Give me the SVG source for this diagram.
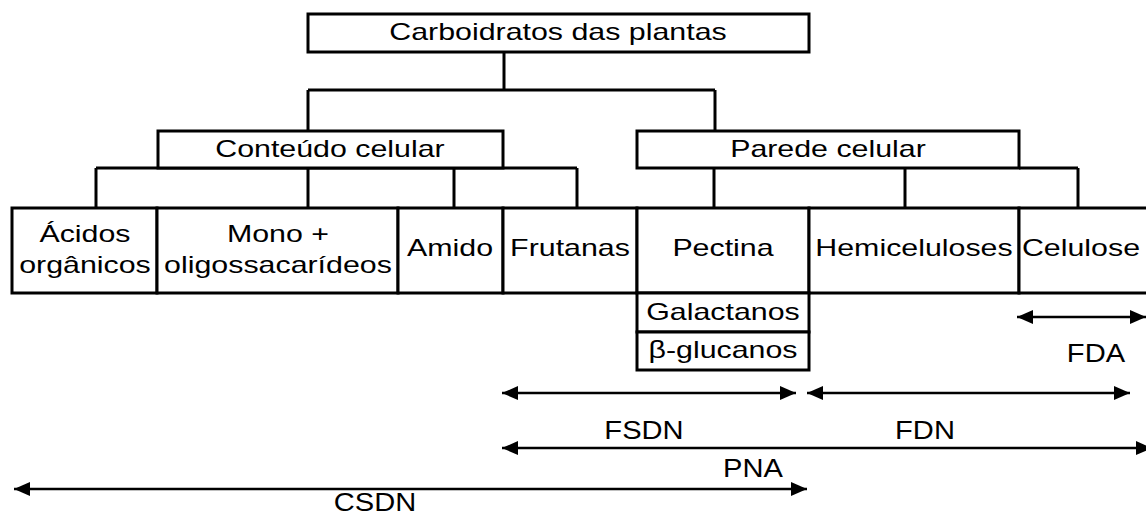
<svg xmlns="http://www.w3.org/2000/svg" width="1146" height="517" viewBox="0 0 1146 517">
<style>
.b { fill: #fff; stroke: #000; stroke-width: 3; }
.c line { stroke: #000; stroke-width: 3; }
.a line { stroke: #000; stroke-width: 2.5; }
.t { font-family: "Liberation Sans", Arial, sans-serif; font-size: 23px; fill: #000; text-anchor: middle; transform-box: fill-box; transform-origin: center; transform: scaleX(1.32); }
.L { font-family: "Liberation Sans", Arial, sans-serif; font-size: 26px; fill: #000; text-anchor: middle; transform-box: fill-box; transform-origin: center; transform: scaleX(1.12); }
</style>
<defs>
<marker id="ah" markerUnits="userSpaceOnUse" markerWidth="16" markerHeight="14" refX="16" refY="7" orient="auto-start-reverse" viewBox="0 0 16 14">
<path d="M0,0 L16,7 L0,14 z" fill="#000"/>
</marker>
</defs>
<rect width="1146" height="517" fill="#fff"/>
<g id="connectors" class="c">
<line x1="504" y1="52" x2="504" y2="90"/>
<line x1="308" y1="90" x2="715" y2="90"/>
<line x1="308" y1="90" x2="308" y2="131"/>
<line x1="715" y1="90" x2="715" y2="131"/>
<line x1="96" y1="168" x2="577" y2="168"/>
<line x1="96" y1="168" x2="96" y2="208"/>
<line x1="308" y1="168" x2="308" y2="208"/>
<line x1="454" y1="168" x2="454" y2="208"/>
<line x1="577" y1="168" x2="577" y2="208"/>
<line x1="1019" y1="168" x2="1078" y2="168"/>
<line x1="714" y1="168" x2="714" y2="208"/>
<line x1="905" y1="168" x2="905" y2="208"/>
<line x1="1078" y1="168" x2="1078" y2="208"/>
</g>
<g id="root"><rect class="b" x="308" y="14" width="501" height="38"/><text class="t" x="558" y="40">Carboidratos das plantas</text></g>
<g id="conteudo"><rect class="b" x="158" y="131" width="345" height="37"/><text class="t" x="330" y="157">Conteúdo celular</text></g>
<g id="parede"><rect class="b" x="637" y="131" width="382" height="37"/><text class="t" x="828" y="157">Parede celular</text></g>
<g id="acidos"><rect class="b" x="12" y="208" width="145" height="85"/><text class="t" x="85" y="242">Ácidos</text><text class="t" x="85" y="273">orgânicos</text></g>
<g id="mono"><rect class="b" x="157" y="208" width="241" height="85"/><text class="t" x="278" y="242">Mono +</text><text class="t" x="278" y="273">oligossacarídeos</text></g>
<g id="amido"><rect class="b" x="398" y="208" width="105" height="85"/><text class="t" x="450" y="256">Amido</text></g>
<g id="frutanas"><rect class="b" x="503" y="208" width="134" height="85"/><text class="t" x="570" y="256">Frutanas</text></g>
<g id="pectina"><rect class="b" x="637" y="208" width="172" height="85"/><text class="t" x="723" y="256">Pectina</text></g>
<g id="hemi"><rect class="b" x="809" y="208" width="210" height="85"/><text class="t" x="914" y="256">Hemiceluloses</text></g>
<g id="celulose"><rect class="b" x="1019" y="208" width="130" height="85"/><text class="t" x="1081" y="256">Celulose</text></g>
<g id="galactanos"><rect class="b" x="637" y="293" width="172" height="39"/><text class="t" x="723" y="320">Galactanos</text></g>
<g id="bglucanos"><rect class="b" x="637" y="332" width="172" height="38"/><text class="t" x="723" y="358">β-glucanos</text></g>
<g id="arrows" class="a">
<line x1="1017" y1="317" x2="1146" y2="317" marker-start="url(#ah)" marker-end="url(#ah)"/>
<line x1="502" y1="393" x2="796" y2="393" marker-start="url(#ah)" marker-end="url(#ah)"/>
<line x1="807" y1="393" x2="1130" y2="393" marker-start="url(#ah)" marker-end="url(#ah)"/>
<line x1="502" y1="448" x2="1152" y2="448" marker-start="url(#ah)" marker-end="url(#ah)"/>
<line x1="14" y1="489" x2="807" y2="489" marker-start="url(#ah)" marker-end="url(#ah)"/>
</g>
<g id="labels">
<text class="L" x="1096" y="362">FDA</text>
<text class="L" x="644" y="439">FSDN</text>
<text class="L" x="925" y="439">FDN</text>
<text class="L" x="753" y="477">PNA</text>
<text class="L" x="375" y="511">CSDN</text>
</g>
</svg>
